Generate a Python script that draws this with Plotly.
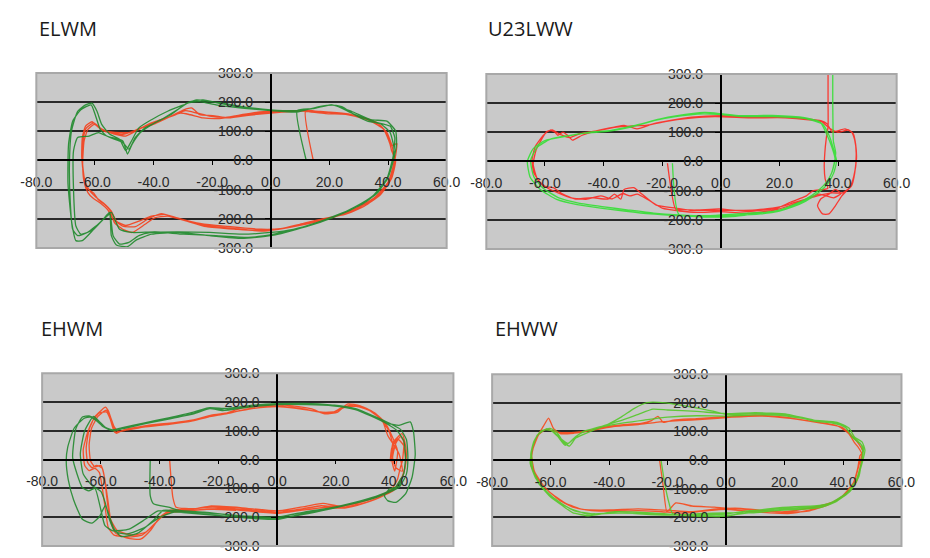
import plotly.graph_objects as go

# ---- x/y traces (knee angle vs. moment loops), one list of (x, y) per series ----

ELWM_RED = [
    (14.5, 0), (11.9, 171),
    (17.6, 166), (23.1, 163), (28.6, 152), (34.1, 135), (38.5, 107), (40.7, 56), (41.2, 34), (42.6, 0),
    (41.2, -62), (37.4, -118), (31.9, -157), (25.3, -185), (17.6, -200), (9.9, -219), (3.3, -234),
    (-3.3, -236), (-11.0, -230), (-18.7, -223), (-25.3, -214), (-31.9, -197), (-36.3, -185), (-40.7, -191),
    (-45.0, -208), (-49.5, -223), (-52.7, -208), (-54.4, -174), (-57.1, -146), (-59.9, -124), (-62.0, -101),
    (-63.5, -67), (-64.3, 0), (-63.9, 79), (-62.9, 112), (-60.4, 129), (-58.0, 110), (-54.9, 96), (-50.5, 90),
    (-47.3, 99), (-42.9, 118), (-38.5, 135), (-33.0, 155), (-29.1, 171), (-25.3, 163), (-20.9, 152),
    (-15.4, 148), (-9.9, 157), (-4.4, 166), (1.1, 169), (7.7, 171), (11.9, 169),
    (18.7, 161), (27.5, 157), (33.0, 140), (37.4, 121), (40.1, 79), (41.2, 51), (43.0, 58), (42.3, 0),
    (40.7, -67), (36.3, -124), (29.7, -163), (22.0, -193), (13.2, -214), (5.5, -230), (-2.2, -242),
    (-12.1, -236), (-22.0, -227), (-29.7, -205), (-35.2, -191), (-39.6, -197), (-42.9, -219), (-47.3, -247),
    (-50.5, -236), (-53.3, -214), (-55.0, -169), (-56.6, -152), (-58.8, -135), (-60.4, -112), (-62.6, -96),
    (-63.7, -56), (-64.5, 11), (-64.3, 79), (-63.2, 118), (-61.0, 133), (-58.8, 115), (-56.0, 101),
    (-51.6, 96), (-48.4, 96), (-44.0, 112), (-39.6, 126), (-34.1, 152), (-29.7, 174), (-26.9, 180),
    (-24.2, 157), (-19.8, 154), (-14.3, 146), (-7.7, 155), (0.0, 163), (7.7, 169), (11.9, 171),
    (19.8, 166), (26.4, 160), (31.9, 146), (36.3, 129), (39.6, 96), (41.5, 45), (42.0, -6), (40.1, -73),
    (35.2, -129), (27.5, -171), (18.7, -202), (9.9, -223), (1.1, -238), (-7.7, -238), (-16.5, -230),
    (-24.2, -219), (-30.8, -202), (-37.4, -182), (-41.8, -200), (-46.2, -227), (-50.5, -225), (-53.8, -202),
    (-55.5, -171), (-58.2, -146), (-60.7, -129), (-62.4, -110), (-63.7, -73), (-64.2, -11), (-63.7, 67),
    (-62.4, 107), (-60.2, 124), (-57.4, 103), (-53.8, 92), (-49.5, 84), (-45.0, 107), (-40.7, 129),
    (-35.2, 148), (-30.8, 163), (-27.5, 157), (-23.1, 146), (-17.6, 144), (-11.0, 152), (-3.3, 163),
    (5.5, 169), (11.9, 171),
]

ELWM_GREEN = [
    (12.1, 0), (9.0, 171),
    (14.3, 178), (20.3, 191), (24.2, 185), (28.6, 157), (33.0, 135), (37.4, 126), (40.7, 96), (42.0, 45),
    (41.8, 0), (40.1, -56), (36.3, -112), (30.8, -152), (23.1, -185), (15.4, -214), (7.7, -236), (0.0, -247),
    (-9.9, -253), (-20.9, -247), (-31.9, -245), (-40.7, -247), (-45.0, -258), (-48.4, -281), (-51.6, -287),
    (-53.8, -258), (-55.0, -178), (-57.7, -208), (-62.6, -247), (-65.9, -258), (-67.6, -236), (-68.4, -146),
    (-68.7, -11), (-68.0, 101), (-65.9, 169), (-63.2, 191), (-61.0, 197), (-59.3, 169), (-57.7, 124),
    (-54.9, 90), (-51.6, 73), (-49.5, 34), (-47.8, 62), (-45.0, 112), (-40.7, 140), (-35.2, 169),
    (-29.7, 191), (-25.3, 208), (-20.9, 202), (-16.5, 197), (-9.9, 185), (0.0, 174), (8.8, 171),
    (15.4, 180), (20.9, 191), (27.5, 169), (34.1, 140), (39.6, 135), (42.6, 101), (42.9, 56), (41.5, -11),
    (39.6, -67), (35.2, -118), (28.6, -160), (20.9, -197), (12.1, -227), (1.1, -253), (-7.7, -264),
    (-18.7, -258), (-29.7, -253), (-39.6, -245), (-47.3, -247), (-51.6, -236), (-54.4, -178), (-56.6, -197),
    (-60.4, -236), (-64.3, -275), (-66.5, -275), (-67.9, -214), (-69.2, -79), (-69.0, 56), (-67.6, 135),
    (-64.8, 174), (-61.3, 191), (-59.9, 157), (-58.2, 107), (-56.0, 84), (-50.5, 67), (-48.9, 22),
    (-47.3, 56), (-44.5, 96), (-39.6, 129), (-34.1, 157), (-28.6, 197), (-24.2, 202), (-18.7, 191),
    (-9.9, 180), (0.0, 171), (8.8, 166),
    (16.5, 185), (22.0, 189), (27.5, 163), (35.2, 133), (40.7, 118), (42.3, 79), (41.8, 17), (39.6, -62),
    (34.1, -129), (26.4, -174), (17.6, -208), (8.8, -236), (0.0, -258), (-9.9, -267), (-20.9, -258),
    (-31.9, -247), (-40.7, -253), (-46.2, -275), (-48.9, -296), (-52.7, -290), (-54.4, -258), (-55.0, -185),
    (-57.1, -202), (-61.5, -242), (-64.8, -253), (-66.5, -225), (-67.3, -101), (-67.3, 34), (-65.9, 79),
    (-62.0, 84), (-58.8, 96), (-54.9, 79), (-50.5, 62), (-48.4, 39), (-46.2, 79), (-42.9, 112),
    (-37.4, 140), (-31.9, 174), (-27.5, 202), (-23.1, 208), (-16.5, 194), (-7.7, 180), (0.0, 171), (7.7, 166),
]

U23LWW_RED = [
    (36.6, 320), (36.6, 200), (36.6, 120), (36.0, 80), (35.5, 30), (35.3, -20), (35.6, -60), (36.5, -92),
    (31.4, -101), (29.2, -118), (23.7, -140), (19.3, -160), (9.4, -172), (-0.6, -163), (-9.9, -168),
    (-15.4, -160), (-22.0, -150), (-27.5, -107), (-29.7, -90), (-33.0, -96), (-34.1, -129), (-36.3, -112),
    (-38.5, -129), (-44.0, -124), (-49.5, -129), (-53.9, -112), (-57.2, -90), (-60.5, -84), (-63.8, -39),
    (-64.4, 6), (-63.3, 51), (-60.5, 90), (-58.3, 107), (-56.7, 101), (-55.6, 90), (-53.9, 101),
    (-52.3, 90), (-50.6, 73), (-47.3, 90), (-41.8, 107), (-36.3, 118), (-33.0, 124), (-28.6, 112),
    (-23.1, 129), (-17.6, 140), (-9.9, 152), (0.0, 157), (12.1, 152), (23.1, 152), (29.7, 146),
    (34.1, 140), (36.3, 129), (38.0, 101), (42.4, 112), (44.6, 101), (45.7, 73), (46.2, 28), (45.7, -39),
    (44.6, -84), (42.9, -101), (41.3, -118), (39.1, -152), (36.9, -180), (34.7, -180), (33.0, -152),
    (34.1, -129), (36.9, -112), (39.1, -96), (41.0, -110), (38.5, -125),
    (33.5, -112), (30.0, -125), (25.0, -146), (19.0, -165), (10.0, -178), (0.0, -172), (-8.0, -175),
    (-14.0, -170), (-20.0, -160), (-25.0, -130), (-28.5, -112), (-31.0, -118), (-33.5, -110), (-37.0, -128),
    (-41.0, -118), (-46.0, -130), (-51.0, -125), (-55.5, -108), (-59.0, -92), (-62.5, -62), (-64.0, -10),
    (-63.0, 40), (-61.0, 78), (-59.5, 102), (-57.5, 108), (-55.0, 94), (-51.5, 82), (-48.0, 96),
    (-43.0, 104), (-38.0, 114), (-34.0, 120), (-30.0, 122), (-25.0, 125), (-19.0, 137), (-11.0, 148),
    (-2.0, 154), (10.0, 150), (22.0, 150), (30.0, 143), (34.5, 136), (37.0, 115), (40.0, 100), (43.5, 108),
    (45.2, 95), (46.0, 60), (46.3, 10), (45.4, -50), (44.0, -90), (41.5, -108), (38.0, -108),
    (33.0, -118), (27.0, -135), (20.5, -155), (12.0, -166), (3.0, -168), (-6.0, -168), (-12.5, -165),
    (-15.4, -163), (-18.2, -6),
]

U23LWW_GREEN = [
    (38.2, 320), (38.2, 200), (38.3, 110), (38.4, 70), (39.2, 30), (38.6, -10), (37.6, -45), (35.5, -78),
    (32.0, -110), (27.5, -140), (23.0, -160), (18.5, -172), (12.0, -176), (4.5, -181), (-4.5, -186),
    (-14.5, -183), (-23.0, -177), (-32.0, -166), (-40.5, -155), (-48.5, -143), (-55.0, -126), (-60.5, -93),
    (-63.8, -52), (-64.9, 3), (-62.7, 48), (-58.3, 76), (-51.7, 89), (-45.0, 100), (-37.4, 107),
    (-29.7, 123), (-21.0, 145), (-15.4, 156), (-5.5, 168), (0.0, 164), (6.6, 157), (17.6, 158), (28.6, 150),
    (34.0, 134), (36.2, 92), (37.8, 52), (39.0, 8), (38.0, -35), (36.0, -72), (33.0, -102), (28.5, -132),
    (24.0, -152), (19.5, -168), (13.0, -178), (5.0, -188), (-5.0, -191), (-15.0, -186), (-24.0, -180),
    (-33.0, -170), (-41.0, -160), (-49.0, -148), (-56.0, -130), (-61.5, -97), (-65.0, -55), (-66.0, 0),
    (-64.0, 44), (-60.0, 72), (-53.0, 86), (-46.0, 97), (-38.0, 104), (-30.0, 120), (-22.0, 142),
    (-16.0, 153), (-6.0, 163), (1.0, 160), (8.0, 154), (18.0, 154), (29.0, 147), (34.8, 128), (37.0, 88),
    (38.3, 48), (39.5, 2), (38.5, -40), (36.5, -76), (33.5, -106), (29.0, -136), (24.5, -156), (20.0, -170),
    (13.5, -180), (5.5, -185), (-4.0, -187), (-14.3, -182), (-16.5, -6),
]

EHWM_RED = [
    (-36.6, 0), (-35.5, -131), (-34.4, -165), (-28.0, -170), (-22.9, -161), (-11.9, -167), (0.0, -178),
    (10.1, -161), (15.6, -152), (21.1, -161), (27.7, -150), (34.3, -127), (38.7, -105), (40.9, -70),
    (42.0, -25), (42.6, -6), (43.1, 62), (42.0, 80), (40.4, 57), (39.3, 6), (40.4, -28), (42.6, -40),
    (41.5, 20), (37.6, 85), (36.0, 131), (32.7, 165), (28.3, 187), (23.9, 193), (20.6, 165), (16.2, 159),
    (11.8, 176), (5.2, 187), (-0.3, 190), (-11.9, 180), (-18.5, 157), (-22.9, 151), (-29.5, 134),
    (-36.1, 125), (-44.9, 117), (-52.6, 102), (-54.8, 91), (-56.0, 125), (-57.5, 170), (-58.5, 182),
    (-60.0, 170), (-62.0, 150), (-64.0, 105), (-65.0, 40), (-64.5, -10), (-63.0, -28), (-61.5, -20),
    (-59.5, -30), (-58.5, -80), (-57.5, -150), (-56.5, -220), (-55.0, -255), (-51.0, -272), (-46.5, -276),
    (-43.0, -244), (-39.9, -199), (-36.6, -176),
    (-30.0, -172), (-22.0, -165), (-12.0, -172), (0.0, -183), (9.0, -170), (15.0, -160), (22.0, -165),
    (29.0, -152), (35.0, -130), (39.5, -108), (42.0, -75), (43.5, -30), (44.0, 20), (43.5, 60), (42.5, 90),
    (39.5, 60), (38.8, 10), (40.0, -40), (41.0, 30), (38.5, 95), (36.8, 128), (33.5, 160), (29.0, 182),
    (24.5, 188), (20.0, 168), (15.5, 163), (11.0, 172), (5.0, 182), (-1.0, 186), (-10.0, 176),
    (-17.0, 160), (-23.5, 148), (-30.5, 131), (-37.5, 122), (-45.5, 113), (-52.5, 100), (-55.3, 95),
    (-56.8, 140), (-58.0, 165), (-60.5, 162), (-62.5, 140), (-64.5, 95), (-66.0, 35), (-65.5, -20),
    (-64.0, -38), (-62.0, -30), (-60.5, -45), (-59.5, -100), (-58.5, -170), (-57.5, -235), (-55.5, -262),
    (-50.5, -268), (-46.0, -262), (-42.5, -232), (-39.0, -195), (-35.0, -178),
    (-28.0, -175), (-20.0, -170), (-10.0, -178), (0.5, -186), (8.0, -176), (16.0, -166), (23.0, -168),
    (30.0, -150), (36.0, -126), (40.0, -100), (42.5, -60), (43.8, -10), (43.0, 50), (41.0, 72), (39.0, 40),
    (38.5, -5), (39.5, 45), (38.0, 100), (35.5, 138), (31.5, 170), (27.0, 185), (22.5, 183), (18.5, 162),
    (13.0, 168), (6.5, 178), (0.0, 184), (-8.0, 178), (-15.0, 165), (-22.0, 155), (-28.5, 138),
    (-35.5, 128), (-43.5, 120), (-50.5, 106), (-54.0, 98), (-55.5, 115), (-56.8, 150), (-58.2, 172),
    (-61.0, 150), (-63.2, 108), (-64.0, 50), (-63.5, -5), (-62.0, -25), (-60.0, -20), (-58.8, -60),
    (-58.0, -130), (-57.0, -200), (-54.5, -245), (-49.0, -262), (-44.5, -250), (-41.0, -215), (-37.5, -185),
    (-31.0, -178), (-24.0, -172), (-14.0, -176),
]

EHWM_GREEN = [
    (-43.2, 0), (-43.2, -125), (-42.1, -153), (-37.0, -165), (-33.3, -176), (-25.0, -182), (-18.0, -190),
    (-11.9, -201), (0.0, -207), (10.1, -184), (21.1, -161), (29.9, -139), (36.5, -116), (40.9, -93),
    (43.1, -48), (43.7, 9), (43.1, 66), (40.9, 100), (37.6, 123), (32.1, 151), (26.6, 174), (18.9, 187),
    (10.1, 191), (0.2, 191), (-9.7, 182), (-18.5, 170), (-22.9, 177), (-28.4, 159), (-36.1, 143),
    (-44.9, 125), (-52.6, 108), (-55.9, 100), (-59.2, 114), (-61.4, 134), (-63.6, 148), (-65.8, 143),
    (-69.1, 109), (-71.3, 43), (-71.8, -2), (-71.1, -70), (-69.3, -139), (-66.3, -207), (-63.0, -220),
    (-60.5, -198), (-58.5, -160), (-57.0, -200), (-55.5, -240), (-53.1, -267), (-47.6, -256),
    (-42.1, -210), (-38.8, -176), (-30.0, -182),
    (-20.0, -188), (-10.0, -196), (0.0, -200), (10.0, -180), (20.0, -165), (29.0, -145), (35.5, -124),
    (40.0, -100), (42.5, -60), (41.5, -91), (38.2, -102), (36.5, -125), (37.6, -142), (40.4, -148),
    (43.7, -119), (45.9, -62), (47.0, 17), (46.4, 97), (45.3, 131), (41.5, 119), (37.0, 128), (31.0, 156),
    (25.5, 178), (18.0, 190), (9.0, 195), (0.0, 194), (-9.0, 188), (-17.0, 178), (-23.5, 180), (-29.5, 162),
    (-37.0, 145), (-45.5, 127), (-53.0, 110), (-56.5, 103), (-59.5, 118), (-62.0, 142), (-64.0, 152),
    (-66.3, 148), (-68.5, 108), (-69.6, 6), (-66.3, -97), (-64.1, -108), (-62.0, -100), (-60.3, -161),
    (-58.6, -229), (-55.9, -247), (-50.4, -241), (-44.9, -207), (-40.5, -178), (-32.0, -184),
    (-22.0, -192), (-12.0, -200), (0.0, -204), (11.0, -186), (21.5, -163), (30.5, -140), (37.0, -118),
    (41.5, -96), (44.0, -50), (44.5, 10), (44.0, 70), (42.0, 105), (38.5, 125), (32.5, 153), (27.0, 176),
    (19.5, 189), (10.5, 193), (0.5, 192), (-9.5, 184), (-18.0, 172), (-23.0, 178), (-28.5, 160),
    (-36.5, 142), (-44.5, 126), (-52.0, 109), (-55.5, 102), (-58.5, 112), (-60.5, 132), (-62.5, 150),
    (-65.5, 100), (-67.0, 20), (-66.0, -50), (-63.0, -90), (-60.0, -110), (-58.5, -150), (-57.0, -210),
    (-55.0, -250), (-51.0, -258), (-45.0, -235), (-40.0, -200), (-35.0, -182), (-27.0, -186),
]

EHWW_RED = [
    (-22.7, -2), (-21.5, -90), (-20.2, -180), (-17.2, -149), (-11.7, -160), (-4.0, -164), (0.0, -168),
    (8.0, -172), (14.0, -178), (20.0, -180), (26.0, -172), (32.0, -160), (37.0, -145), (41.0, -118),
    (44.0, -72), (45.5, -15), (46.5, 20), (45.2, 45), (44.0, 60), (42.0, 92), (38.0, 120), (30.0, 134),
    (20.0, 150), (10.0, 157), (0.0, 152), (-10.0, 145), (-18.0, 140), (-21.5, 132), (-23.3, 153),
    (-25.5, 138), (-29.0, 128), (-35.0, 124), (-42.0, 115), (-48.0, 100), (-52.0, 94), (-56.5, 92),
    (-59.0, 110), (-60.7, 147), (-62.5, 118), (-64.8, 78), (-66.5, 20), (-65.5, -40), (-62.0, -95),
    (-57.0, -140), (-52.0, -165), (-46.0, -176), (-38.0, -178), (-30.0, -176), (-22.0, -180),
    (-14.0, -185), (-6.0, -176), (0.0, -172), (7.0, -178), (15.0, -184), (22.0, -186), (28.0, -175),
    (34.0, -160), (39.5, -128), (43.5, -80), (45.0, -30), (45.8, 15), (46.8, 30), (45.5, 55), (43.0, 85),
    (39.5, 115), (32.0, 130), (22.0, 146), (12.0, 154), (2.0, 150), (-8.0, 142), (-16.0, 138),
    (-24.0, 132), (-30.0, 124), (-38.0, 118), (-46.0, 104), (-53.0, 96), (-58.0, 98), (-61.5, 108),
    (-64.0, 90), (-66.0, 40), (-66.8, -15), (-64.5, -65), (-60.5, -110), (-55.0, -150), (-49.0, -172),
    (-40.0, -174), (-30.0, -170), (-20.0, -175), (-12.0, -180), (-3.0, -170), (5.0, -168), (12.0, -175),
    (20.0, -182), (28.0, -178), (35.0, -155), (40.5, -122), (44.5, -78), (46.0, -20), (46.5, 10),
]

EHWW_GREEN = [
    (-22.2, -2), (-21.0, -80), (-19.5, -150), (-18.3, -186), (-9.5, -194), (0.0, -196), (8.2, -180),
    (15.9, -168), (23.6, -162), (30.2, -160), (35.7, -149), (41.2, -115), (44.5, -70), (46.2, -14),
    (46.7, 32), (46.2, 54), (43.4, 77), (41.2, 111), (37.9, 128), (30.2, 136), (21.4, 158), (10.4, 163),
    (0.0, 160), (-5.0, 172), (-11.7, 185), (-20.5, 200), (-27.1, 201), (-31.5, 180), (-35.9, 150),
    (-40.4, 125), (-46.7, 99), (-51.4, 77), (-53.6, 49), (-55.8, 66), (-58.0, 99), (-60.2, 111),
    (-63.5, 99), (-65.7, 66), (-66.8, 20), (-66.3, -25), (-64.1, -81), (-60.2, -127), (-55.8, -160),
    (-52.5, -183), (-47.0, -194), (-38.1, -180), (-27.1, -183), (-18.3, -189),
    (-9.0, -190), (0.0, -188), (8.0, -176), (16.0, -172), (24.0, -168), (31.0, -163), (36.5, -150),
    (42.0, -112), (45.0, -60), (46.8, 0), (47.5, 35), (46.5, 64), (44.0, 80), (42.0, 112), (38.0, 132),
    (30.0, 140), (21.0, 160), (10.0, 166), (0.0, 162), (-10.0, 170), (-20.0, 175), (-25.0, 178),
    (-30.0, 160), (-36.0, 138), (-42.0, 120), (-48.0, 102), (-51.5, 82), (-54.0, 58), (-56.5, 75),
    (-59.0, 100), (-61.5, 108), (-64.5, 88), (-66.3, 40), (-67.0, -10), (-65.0, -65), (-61.5, -110),
    (-57.0, -148), (-52.0, -176), (-45.0, -188), (-36.0, -184), (-26.0, -190), (-17.0, -192),
    (-8.0, -186), (0.0, -184), (9.0, -184), (17.0, -176), (25.0, -172), (32.0, -166), (37.5, -146),
    (42.5, -108), (45.5, -55), (46.5, 5), (47.0, 40), (45.8, 60), (43.0, 84), (40.5, 118), (36.0, 130),
    (28.0, 143), (20.0, 155), (10.0, 158), (0.0, 154), (-10.0, 155), (-20.0, 150), (-28.0, 140),
    (-35.0, 130), (-42.0, 117), (-49.0, 100), (-52.5, 70), (-55.0, 52), (-57.5, 82), (-60.0, 104),
    (-63.0, 104), (-65.5, 70), (-66.5, 25), (-66.0, -35), (-63.0, -92), (-58.5, -135), (-53.5, -168),
    (-47.5, -188), (-39.0, -184), (-30.0, -186), (-20.0, -190), (-10.0, -196), (0.0, -194),
    (9.0, -182), (18.0, -170), (26.0, -166), (33.0, -160), (38.0, -140), (43.0, -100), (45.8, -40),
]

X_TICKS = [-80, -60, -40, -20, 0, 20, 40, 60]
X_TICK_TEXT = ["-80.0", "-60.0", "-40.0", "-20.0", "0.0", "20.0", "40.0", "60.0"]
Y_TICKS = [-300, -200, -100, 0, 100, 200, 300]
Y_TICK_TEXT = ["-300.0", "-200.0", "-100.0", "0.0", "100.0", "200.0", "300.0"]

PANELS = [
    # title, red series, green series, red colour, green colour
    ("ELWM", ELWM_RED, ELWM_GREEN, "#f5401c", "#1f8a2c"),
    ("U23LWW", U23LWW_RED, U23LWW_GREEN, "#ff2a22", "#35e035"),
    ("EHWM", EHWM_RED, EHWM_GREEN, "#f8461c", "#22892e"),
    ("EHWW", EHWW_RED, EHWW_GREEN, "#f8491a", "#55c82a"),
]

# pixel boxes of the four plot areas: left, top, right, bottom
W, H = 930, 558
BOXES = [
    (21, 67, 445, 247),
    (486, 68, 910, 248),
    (27, 376, 452, 554),
    (492, 377, 915, 554),
]
TITLE_POS = [(22, 21), (486, 21), (24, 330), (493, 330)]

X_MIN, X_MAX = -80, 60
Y_MIN, Y_MAX = -300, 300

fig = go.Figure()
tick_font = dict(family="Liberation Sans, Arial, sans-serif", size=14, color="#2a2a2a")

for i, (title, red, green, red_col, green_col) in enumerate(PANELS):
    n = "" if i == 0 else str(i + 1)
    left, top, right, bottom = BOXES[i]
    xd = [left / W, right / W]
    yd = [1 - bottom / H, 1 - top / H]
    x_zero = xd[0] + (0 - X_MIN) / (X_MAX - X_MIN) * (xd[1] - xd[0])
    y_zero = yd[0] + (0 - Y_MIN) / (Y_MAX - Y_MIN) * (yd[1] - yd[0])

    for series, col in ((red, red_col), (green, green_col)):
        fig.add_trace(go.Scatter(
            x=[p[0] for p in series], y=[p[1] for p in series],
            mode="lines", line=dict(color=col, width=1.3, shape="spline", smoothing=0.5),
            opacity=0.9, xaxis="x" + n, yaxis="y" + n, showlegend=False, hoverinfo="skip",
        ))

    fig.update_layout(**{
        "xaxis" + n: dict(
            domain=xd, range=[X_MIN, X_MAX], anchor="free", position=y_zero,
            tickmode="array", tickvals=X_TICKS, ticktext=X_TICK_TEXT,
            showline=True, linecolor="#000", linewidth=1.5,
            ticks="outside", ticklen=4, tickcolor="#000", tickwidth=1.2,
            ticklabelstandoff=5, showgrid=False, zeroline=False, tickfont=tick_font,
            fixedrange=True,
        ),
        "yaxis" + n: dict(
            domain=yd, range=[Y_MIN, Y_MAX], anchor="free", position=x_zero,
            tickmode="array", tickvals=Y_TICKS, ticktext=Y_TICK_TEXT,
            showline=True, linecolor="#000", linewidth=1.8,
            ticks="outside", ticklen=5, tickcolor="#000", tickwidth=1.2,
            ticklabelstandoff=9, showgrid=True, gridcolor="#2a2a2a", gridwidth=1.6,
            zeroline=False, tickfont=tick_font, fixedrange=True,
        ),
    })

    # plot-area border
    fig.add_shape(type="rect", xref="x" + n + " domain", yref="y" + n + " domain",
                  x0=0, x1=1, y0=0, y1=1, line=dict(color="#a8a8a8", width=2), layer="above")

    tx, ty = TITLE_POS[i]
    fig.add_annotation(text=title, xref="paper", yref="paper", x=tx / W, y=1 - ty / H,
                       xanchor="left", yanchor="middle", showarrow=False,
                       font=dict(family="Open Sans, Noto Sans, sans-serif", size=20, color="#1a1a1a"))

fig.update_layout(
    width=W, height=H, margin=dict(l=0, r=0, t=0, b=0),
    paper_bgcolor="white", plot_bgcolor="#c9c9c9",
)

fig.write_html("out.html")
